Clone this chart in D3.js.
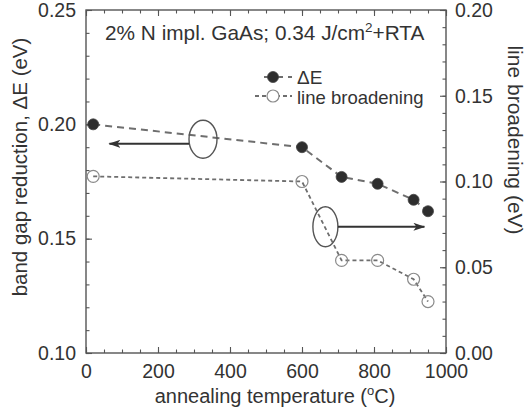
<!DOCTYPE html>
<html>
<head>
<meta charset="utf-8">
<script src="https://cdn.jsdelivr.net/npm/d3@7"></script>
<style>
  html, body { margin: 0; padding: 0; background: #fff; }
  svg { display: block; font-family: "Liberation Sans", Arial, sans-serif; }
</style>
</head>
<body>
<svg id="chart" width="527" height="417"></svg>
<script>
// Annealing temperatures (°C) and measured quantities
const temperatures = [20, 600, 710, 810, 910, 950];
const bandGapReduction = [0.200, 0.190, 0.177, 0.174, 0.167, 0.162];   // ΔE (eV), left axis
const lineBroadening = [0.103, 0.100, 0.054, 0.054, 0.043, 0.030];     // eV, right axis

const xTicks = [0, 200, 400, 600, 800, 1000];
const leftTicks = [0.10, 0.15, 0.20, 0.25];
const rightTicks = [0.00, 0.05, 0.10, 0.15, 0.20];

const svg = d3.select("#chart");
const W = 527, H = 417;
const m = { left: 86, right: 446, top: 10, bottom: 353 };

const x = d3.scaleLinear().domain([0, 1000]).range([m.left, m.right]);
const yL = d3.scaleLinear().domain([0.10, 0.25]).range([m.bottom, m.top]);
const yR = d3.scaleLinear().domain([0.00, 0.20]).range([m.bottom, m.top]);

const axisColor = "#555";
const textColor = "#333";
const fontSize = 19.5;

svg.append("rect").attr("width", W).attr("height", H).attr("fill", "#fff");

// arrow heads for the series-to-axis pointers
const defs = svg.append("defs");
defs.append("marker")
  .attr("id", "arrowhead")
  .attr("viewBox", "0 0 12 8")
  .attr("refX", 11).attr("refY", 4)
  .attr("markerWidth", 12).attr("markerHeight", 8)
  .attr("markerUnits", "userSpaceOnUse")
  .attr("orient", "auto")
  .append("path")
  .attr("d", "M0,0 L12,4 L0,8 L3,4 Z")
  .attr("fill", "#333");

function styleAxis(g) {
  g.select(".domain").remove();
  g.selectAll(".tick line").attr("stroke", axisColor).attr("stroke-width", 1.1);
  g.selectAll(".tick text")
    .attr("fill", textColor)
    .style("font-size", fontSize + "px")
    .style("font-family", "'Liberation Sans', Arial, sans-serif");
}

// minor ticks
const minorX = d3.range(0, 1001, 50);
const minorL = d3.range(0.10, 0.2501, 0.01);
const minorR = d3.range(0.00, 0.2001, 0.01);

svg.append("g").attr("transform", `translate(0,${m.bottom})`)
  .call(d3.axisBottom(x).tickValues(minorX).tickSize(-3.5).tickFormat(""))
  .call(styleAxis);
svg.append("g").attr("transform", `translate(0,${m.top})`)
  .call(d3.axisTop(x).tickValues(minorX).tickSize(-3.5).tickFormat(""))
  .call(styleAxis);
svg.append("g").attr("transform", `translate(${m.left},0)`)
  .call(d3.axisLeft(yL).tickValues(minorL).tickSize(-3.5).tickFormat(""))
  .call(styleAxis);
svg.append("g").attr("transform", `translate(${m.right},0)`)
  .call(d3.axisRight(yR).tickValues(minorR).tickSize(-3.5).tickFormat(""))
  .call(styleAxis);

// major ticks with labels
svg.append("g").attr("transform", `translate(0,${m.bottom})`)
  .call(d3.axisBottom(x).tickValues(xTicks).tickSize(-6).tickPadding(11).tickFormat(d3.format("d")))
  .call(styleAxis);
svg.append("g").attr("transform", `translate(0,${m.top})`)
  .call(d3.axisTop(x).tickValues(xTicks).tickSize(-6).tickFormat(""))
  .call(styleAxis);
svg.append("g").attr("transform", `translate(${m.left},0)`)
  .call(d3.axisLeft(yL).tickValues(leftTicks).tickSize(-6).tickPadding(10).tickFormat(d3.format(".2f")))
  .call(styleAxis);
svg.append("g").attr("transform", `translate(${m.right},0)`)
  .call(d3.axisRight(yR).tickValues(rightTicks).tickSize(-6).tickPadding(9).tickFormat(d3.format(".2f")))
  .call(styleAxis);

// plot frame
svg.append("rect")
  .attr("x", m.left).attr("y", m.top)
  .attr("width", m.right - m.left).attr("height", m.bottom - m.top)
  .attr("fill", "none").attr("stroke", axisColor).attr("stroke-width", 1.4);

// axis titles
svg.append("text")
  .attr("x", (m.left + m.right) / 2 + 9).attr("y", 403)
  .attr("text-anchor", "middle").attr("fill", textColor)
  .style("font-size", "20px")
  .call(t => {
    t.append("tspan").text("annealing temperature (");
    t.append("tspan").attr("dy", -8).style("font-size", "13px").text("o");
    t.append("tspan").attr("dy", 8).text("C)");
  });

svg.append("text")
  .attr("transform", `translate(27,${167}) rotate(-90)`)
  .attr("text-anchor", "middle").attr("fill", textColor)
  .style("font-size", "20.5px")
  .text("band gap reduction, \u0394E (eV)");

svg.append("text")
  .attr("transform", `translate(508,${140}) rotate(90)`)
  .attr("text-anchor", "middle").attr("fill", textColor)
  .style("font-size", "21px")
  .text("line broadening (eV)");

// title inside the plot
svg.append("text")
  .attr("x", 105).attr("y", 40)
  .attr("fill", textColor)
  .style("font-size", "20.8px")
  .call(t => {
    t.append("tspan").text("2% N impl. GaAs; 0.34 J/cm");
    t.append("tspan").attr("dy", -8).style("font-size", "13.5px").text("2");
    t.append("tspan").attr("dy", 8).text("+RTA");
  });

// series lines
const pts = temperatures.map((t, i) => ({ t, dE: bandGapReduction[i], lb: lineBroadening[i] }));

svg.append("path")
  .datum(pts)
  .attr("fill", "none").attr("stroke", "#6e6e6e").attr("stroke-width", 2)
  .attr("stroke-dasharray", "7,5")
  .attr("d", d3.line().x(d => x(d.t)).y(d => yL(d.dE)));

svg.append("path")
  .datum(pts)
  .attr("fill", "none").attr("stroke", "#6e6e6e").attr("stroke-width", 1.8)
  .attr("stroke-dasharray", "4,3")
  .attr("d", d3.line().x(d => x(d.t)).y(d => yR(d.lb)));

// markers
svg.append("g").selectAll("circle").data(pts).join("circle")
  .attr("cx", d => x(d.t)).attr("cy", d => yL(d.dE)).attr("r", 5.5)
  .attr("fill", "#2e2e2e").attr("stroke", "#444").attr("stroke-width", 0.8);

svg.append("g").selectAll("circle").data(pts).join("circle")
  .attr("cx", d => x(d.t)).attr("cy", d => yR(d.lb)).attr("r", 6)
  .attr("fill", "none").attr("stroke", "#8a8a8a").attr("stroke-width", 1.2);

// ellipses and arrows marking which axis each series uses
const ellL = { t: 325, v: 0.1935 };
svg.append("ellipse")
  .attr("cx", x(ellL.t)).attr("cy", yL(ellL.v)).attr("rx", 14).attr("ry", 19)
  .attr("fill", "none").attr("stroke", "#555").attr("stroke-width", 1.4);
svg.append("line")
  .attr("x1", x(ellL.t) - 14).attr("y1", yL(0.1915))
  .attr("x2", x(65)).attr("y2", yL(0.1915))
  .attr("stroke", "#333").attr("stroke-width", 2)
  .attr("marker-end", "url(#arrowhead)");

const ellR = { t: 665, v: 0.0736 };
svg.append("ellipse")
  .attr("cx", x(ellR.t)).attr("cy", yR(ellR.v)).attr("rx", 12.5).attr("ry", 20)
  .attr("fill", "none").attr("stroke", "#555").attr("stroke-width", 1.4);
svg.append("line")
  .attr("x1", x(ellR.t) + 12.5).attr("y1", yR(ellR.v))
  .attr("x2", x(940)).attr("y2", yR(ellR.v))
  .attr("stroke", "#333").attr("stroke-width", 2)
  .attr("marker-end", "url(#arrowhead)");

// legend
const leg = svg.append("g");
leg.append("line").attr("x1", 262).attr("x2", 292).attr("y1", 77).attr("y2", 77)
  .attr("stroke", "#6e6e6e").attr("stroke-width", 2).attr("stroke-dasharray", "7,5").attr("stroke-dashoffset", -2);
leg.append("circle").attr("cx", 273).attr("cy", 77).attr("r", 5.5)
  .attr("fill", "#2e2e2e").attr("stroke", "#444").attr("stroke-width", 0.8);
leg.append("text").attr("x", 297).attr("y", 84).attr("fill", textColor)
  .style("font-size", "19px").text("\u0394E");

leg.append("line").attr("x1", 255).attr("x2", 292).attr("y1", 96).attr("y2", 96)
  .attr("stroke", "#6e6e6e").attr("stroke-width", 1.8).attr("stroke-dasharray", "4,3");
leg.append("circle").attr("cx", 273).attr("cy", 96).attr("r", 6)
  .attr("fill", "#fff").attr("stroke", "#8a8a8a").attr("stroke-width", 1.2);
leg.append("text").attr("x", 297).attr("y", 104).attr("fill", textColor)
  .style("font-size", "18.5px").text("line broadening");
</script>
</body>
</html>
